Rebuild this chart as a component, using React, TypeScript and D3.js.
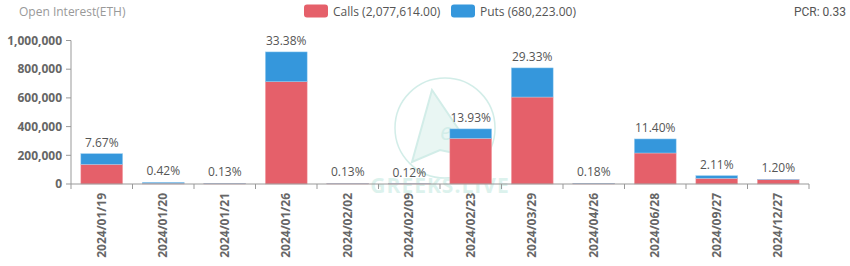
import React from "react";
import * as d3 from "d3";

const categories = ["2024/01/19","2024/01/20","2024/01/21","2024/01/26","2024/02/02","2024/02/09","2024/02/23","2024/03/29","2024/04/26","2024/06/28","2024/09/27","2024/12/27"];
const calls = [137000, 4000, 1800, 713000, 3000, 2800, 318000, 606000, 2500, 216000, 40000, 31000];
const puts = [74500, 7600, 1800, 207500, 600, 500, 66000, 203000, 2500, 98000, 18200, 2100];
const percents = ["7.67%","0.42%","0.13%","33.38%","0.13%","0.12%","13.93%","29.33%","0.18%","11.40%","2.11%","1.20%"];
const yTicks = [0, 200000, 400000, 600000, 800000, 1000000];
const callsTotal = "2,077,614.00";
const putsTotal = "680,223.00";
const pcr = "0.33";

const RED = "#e5606a";
const BLUE = "#3597dc";
const FONT = "'Open Sans', 'Noto Sans', sans-serif";

export default function App() {
  const W = 850, H = 266;
  const x = d3.scaleBand<string>().domain(categories).range([71, 809]).paddingInner(0.32).paddingOuter(0.16);
  const y = d3.scaleLinear().domain([0, 1000000]).range([184, 40.5]);
  const step = x.step();
  const fmt = d3.format(",");

  return (
    <svg width={W} height={H} style={{ position: "absolute", left: 0, top: 0, background: "#fff" }} fontFamily={FONT}>
      {/* watermark */}
      <g opacity={0.3}>
        <circle cx={445} cy={128} r={50} fill="none" stroke="#6cc5b5" strokeWidth={1.5} />
        <path d="M432,90 L412,162 L440,150 L478,158 Z" fill="#b9e3da" stroke="#6cc5b5" strokeWidth={2} />
        <text x={446} y={140} fontSize={24} fontStyle="italic" fill="#6cc5b5" textAnchor="middle">e</text>
        <text x={440} y={193} fontSize={21} fontWeight="bold" fill="#8fd6c6" textAnchor="middle" letterSpacing={1}>GREEKS.LIVE</text>
      </g>

      {/* title */}
      <text x={19} y={16} fontSize={12} fill="#999">Open Interest(ETH)</text>

      {/* legend */}
      <rect x={304} y={4.5} width={24} height={13} rx={3} fill={RED} />
      <text x={333} y={15.5} fontSize={12} fill="#555">{`Calls (${callsTotal})`}</text>
      <rect x={451} y={4.5} width={24} height={13} rx={3} fill={BLUE} />
      <text x={480} y={15.5} fontSize={12} fill="#555">{`Puts (${putsTotal})`}</text>
      <text x={846} y={16} fontSize={12} fill="#555" textAnchor="end" fontFamily="Roboto, sans-serif">{`PCR: ${pcr}`}</text>

      {/* y axis */}
      <line x1={71} x2={71} y1={40.5} y2={184} stroke="#999" />
      {yTicks.map((t) => (
        <g key={t}>
          <line x1={66} x2={71} y1={y(t)} y2={y(t)} stroke="#999" />
          <text x={62} y={y(t)} dy="0.35em" textAnchor="end" fontSize={12} fontWeight="bold" fill="#666">{fmt(t)}</text>
        </g>
      ))}

      {/* bars */}
      {categories.map((c, i) => {
        const x0 = x(c)!;
        const bw = x.bandwidth();
        const yc = y(calls[i]);
        const yt = y(calls[i] + puts[i]);
        return (
          <g key={c}>
            <rect x={x0} y={yc} width={bw} height={184 - yc} fill={RED} stroke="#f3a9ae" strokeWidth={0.5} />
            <rect x={x0} y={yt} width={bw} height={yc - yt} fill={BLUE} stroke="#9fd0f0" strokeWidth={0.5} />
            <text x={x0 + bw / 2} y={yt - 7} textAnchor="middle" fontSize={12} fill="#555">{percents[i]}</text>
          </g>
        );
      })}

      {/* x axis */}
      <line x1={71} x2={809} y1={184} y2={184} stroke="#999" />
      {d3.range(categories.length + 1).map((k) => (
        <line key={k} x1={71 + k * step} x2={71 + k * step} y1={184} y2={189} stroke="#999" />
      ))}
      {categories.map((c) => {
        const cx = x(c)! + x.bandwidth() / 2;
        return (
          <text key={c} transform={`translate(${cx},193) rotate(-90)`} dy="0.35em" textAnchor="end" fontSize={12} fontWeight="bold" fill="#666">{c}</text>
        );
      })}
    </svg>
  );
}
